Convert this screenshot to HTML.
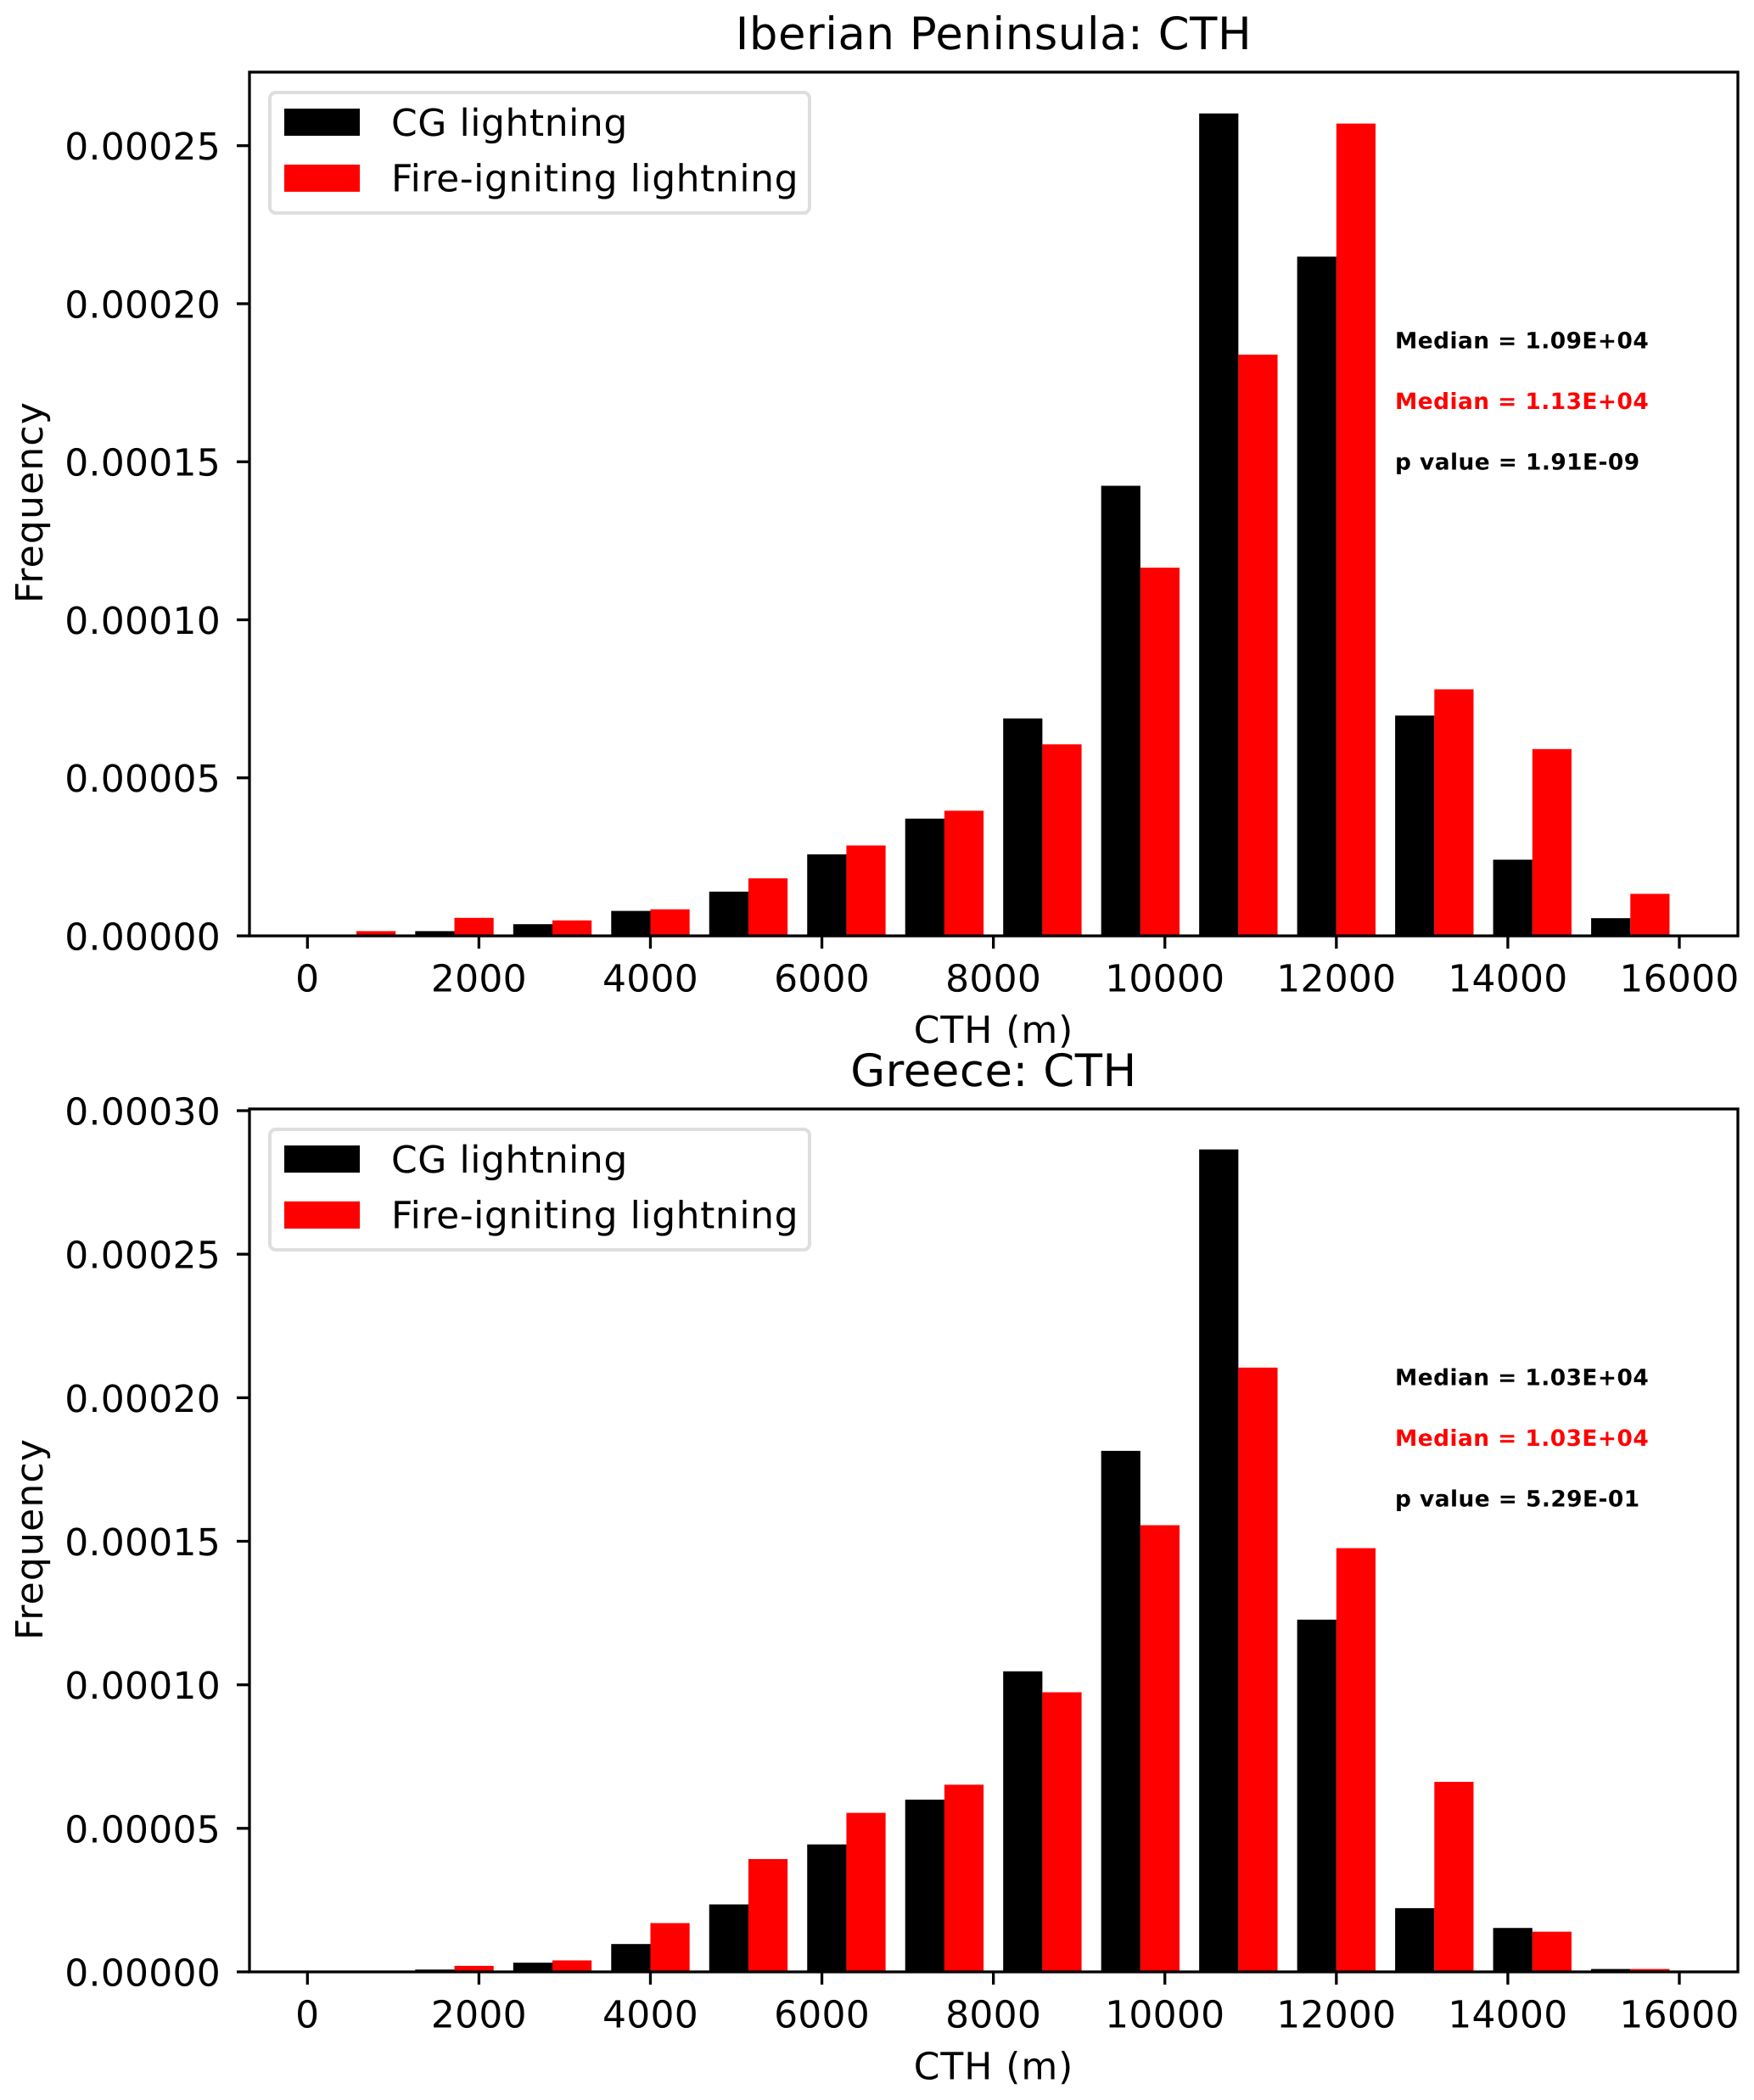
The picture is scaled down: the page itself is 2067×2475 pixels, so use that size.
<!DOCTYPE html>
<html lang="en">
<head>
<meta charset="utf-8">
<title>Iberian Peninsula and Greece: CTH histograms</title>
<style>
  html, body { margin: 0; padding: 0; background: #fff; }
  svg { display: block; }
  text { font-family: "DejaVu Sans", "Liberation Sans", sans-serif; fill: #000; text-rendering: geometricPrecision; }
  .tick-label { font-size: 44px; letter-spacing: 0.25px; }
  .axis-label { font-size: 44px; letter-spacing: 0.95px; }
  .legend-label { font-size: 44px; letter-spacing: 0.55px; }
  .title { font-size: 52.8px; letter-spacing: 0.57px; }
  .note { font-size: 26.4px; font-weight: bold; letter-spacing: 0.47px; }
</style>
</head>
<body>
<svg id="figure" xmlns="http://www.w3.org/2000/svg" width="2067" height="2475" viewBox="0 0 2067 2475">
  <rect x="0" y="0" width="2067" height="2475" fill="#fff"/>

  <g id="panel-iberia">
    <g id="iberia-bars"></g>
    <g id="iberia-ticks"></g>
    <rect x="294" y="85" width="1754" height="1018" fill="none" stroke="#000" stroke-width="3.3"/>
    <text class="title" x="1171" y="58" text-anchor="middle">Iberian Peninsula: CTH</text>
    <text class="axis-label" x="1171" y="1229" text-anchor="middle">CTH (m)</text>
    <text class="axis-label" style="letter-spacing:1.2px" transform="translate(50 592) rotate(-90)" text-anchor="middle">Frequency</text>
    <g>
      <rect x="318" y="109" width="636" height="142" rx="7" ry="7" fill="#fff" stroke="#dedede" stroke-width="4"/>
      <rect x="335" y="128" width="89" height="32" fill="#000"/>
      <text class="legend-label" x="461" y="160">CG lightning</text>
      <rect x="335" y="194" width="89" height="32" fill="#f00"/>
      <text class="legend-label" x="461" y="225.5">Fire-igniting lightning</text>
    </g>
    <text class="note" x="1644" y="410.5">Median = 1.09E+04</text>
    <text class="note" x="1644" y="482" style="fill:#f00">Median = 1.13E+04</text>
    <text class="note" x="1644" y="553.5">p value = 1.91E-09</text>
  </g>

  <g id="panel-greece">
    <g id="greece-bars"></g>
    <g id="greece-ticks"></g>
    <rect x="294" y="1307" width="1754" height="1017" fill="none" stroke="#000" stroke-width="3.3"/>
    <text class="title" x="1171" y="1280" text-anchor="middle">Greece: CTH</text>
    <text class="axis-label" x="1171" y="2450.5" text-anchor="middle">CTH (m)</text>
    <text class="axis-label" style="letter-spacing:1.2px" transform="translate(50 1814) rotate(-90)" text-anchor="middle">Frequency</text>
    <g>
      <rect x="318" y="1331" width="636" height="142" rx="7" ry="7" fill="#fff" stroke="#dedede" stroke-width="4"/>
      <rect x="335" y="1350" width="89" height="32" fill="#000"/>
      <text class="legend-label" x="461" y="1382">CG lightning</text>
      <rect x="335" y="1416" width="89" height="32" fill="#f00"/>
      <text class="legend-label" x="461" y="1447.5">Fire-igniting lightning</text>
    </g>
    <text class="note" x="1644" y="1632.5">Median = 1.03E+04</text>
    <text class="note" x="1644" y="1704" style="fill:#f00">Median = 1.03E+04</text>
    <text class="note" x="1644" y="1775.5">p value = 5.29E-01</text>
  </g>
</svg>

<script>
// Shared histogram bins (metres) and x-axis ticks
const binStart = 0;
const binEnd = 16000;
const binCount = 14;
const xTickValues = [0, 2000, 4000, 6000, 8000, 10000, 12000, 14000, 16000];
const xTickLabels = ["0", "2000", "4000", "6000", "8000", "10000", "12000", "14000", "16000"];

// Iberian Peninsula
const iberiaCg = [0, 1.5e-6, 3.7e-6, 7.9e-6, 1.40e-5, 2.58e-5, 3.71e-5, 6.88e-5, 1.424e-4, 2.602e-4, 2.149e-4, 6.97e-5, 2.41e-5, 5.6e-6];
const iberiaFire = [1.5e-6, 5.7e-6, 4.9e-6, 8.4e-6, 1.82e-5, 2.86e-5, 3.96e-5, 6.06e-5, 1.165e-4, 1.839e-4, 2.57e-4, 7.8e-5, 5.91e-5, 1.33e-5];
const iberiaYTickValues = [0, 0.00005, 0.0001, 0.00015, 0.0002, 0.00025];
const iberiaYTickLabels = ["0.00000", "0.00005", "0.00010", "0.00015", "0.00020", "0.00025"];

// Greece
const greeceCg = [0, 8e-7, 3.2e-6, 9.7e-6, 2.35e-5, 4.44e-5, 6.0e-5, 1.047e-4, 1.815e-4, 2.865e-4, 1.227e-4, 2.22e-5, 1.53e-5, 1e-6];
const greeceFire = [0, 2.1e-6, 4e-6, 1.7e-5, 3.93e-5, 5.54e-5, 6.52e-5, 9.74e-5, 1.556e-4, 2.105e-4, 1.476e-4, 6.62e-5, 1.4e-5, 1e-6];
const greeceYTickValues = [0, 0.00005, 0.0001, 0.00015, 0.0002, 0.00025, 0.0003];
const greeceYTickLabels = ["0.00000", "0.00005", "0.00010", "0.00015", "0.00020", "0.00025", "0.00030"];

const SVG_NS = "http://www.w3.org/2000/svg";

function xScale(v) {
  return 362.3 + v * (1979 - 362.3) / 16000;
}
function iberiaY(v) {
  return 1103 - v * (1103 - 171.7) / 0.00025;
}
function greeceY(v) {
  return 2324 - v * (2324 - 1309) / 0.0003;
}

function make(tag, attrs, parent) {
  const node = document.createElementNS(SVG_NS, tag);
  for (const key in attrs) node.setAttribute(key, attrs[key]);
  parent.appendChild(node);
  return node;
}

function drawPanel(prefix, cg, fire, yTicks, yLabels, yScale) {
  const barsGroup = document.getElementById(prefix + "-bars");
  const ticksGroup = document.getElementById(prefix + "-ticks");
  const binWidth = (binEnd - binStart) / binCount;
  const base = yScale(0);

  for (let i = 0; i < binCount; i++) {
    const left = binStart + i * binWidth + 0.1 * binWidth;
    const mid = left + 0.4 * binWidth;
    const right = mid + 0.4 * binWidth;

    const cgTop = yScale(cg[i]);
    const cgBar = make("rect", { x: xScale(left), y: cgTop, width: xScale(mid) - xScale(left), height: base - cgTop, fill: "#000" }, barsGroup);
    
    

    const fireTop = yScale(fire[i]);
    const fireBar = make("rect", { x: xScale(mid), y: fireTop, width: xScale(right) - xScale(mid), height: base - fireTop, fill: "#f00" }, barsGroup);
    
    
  }

  xTickValues.forEach(function (v, i) {
    const x = xScale(v);
    const mark = make("line", { x1: x, x2: x, y1: base, y2: base + 15, stroke: "#000", "stroke-width": 3.3 }, ticksGroup);
    
    
    const label = make("text", { x: x, y: base + 65.5, "text-anchor": "middle", "class": "tick-label" }, ticksGroup);
    label.textContent = xTickLabels[i];
    
    
  });

  yTicks.forEach(function (v, i) {
    const y = yScale(v);
    const mark = make("line", { x1: 279, x2: 294, y1: y, y2: y, stroke: "#000", "stroke-width": 3.3 }, ticksGroup);
    
    
    const label = make("text", { x: 260, y: y + 16.5, "text-anchor": "end", "class": "tick-label" }, ticksGroup);
    label.textContent = yLabels[i];
    
    
  });
}

drawPanel("iberia", iberiaCg, iberiaFire, iberiaYTickValues, iberiaYTickLabels, iberiaY);
drawPanel("greece", greeceCg, greeceFire, greeceYTickValues, greeceYTickLabels, greeceY);
</script>
</body>
</html>
